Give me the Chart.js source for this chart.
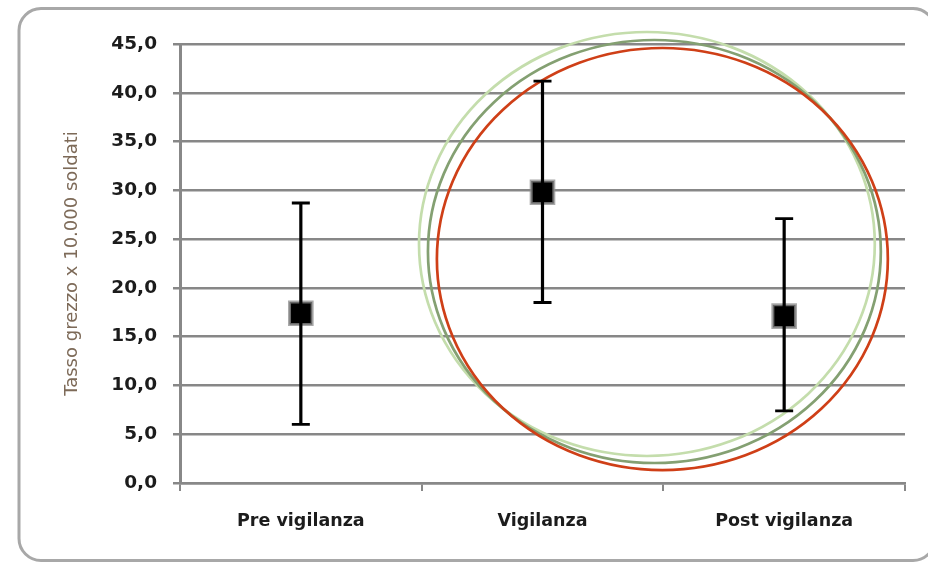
<!DOCTYPE html>
<html>
<head>
<meta charset="utf-8">
<script src="https://cdn.jsdelivr.net/npm/chart.js@4"></script>
<style>
  html, body { margin: 0; padding: 0; background: #ffffff; }
  #wrap { width: 928px; height: 565px; position: relative; }
</style>
</head>
<body>
<div id="wrap"><canvas id="chart"></canvas></div>
<script>
// Periods and crude rates (per 10.000) with their confidence bounds
const categories = ['Pre vigilanza', 'Vigilanza', 'Post vigilanza'];
const rates = [17.4, 29.8, 17.1];
const lowerBounds = [6.0, 18.5, 7.4];
const upperBounds = [28.7, 41.2, 27.1];
const yMin = 0;
const yMax = 45;
const yStep = 5;

// Highlight rings around the vigilance periods, in axis units (category index, rate)
const rings = [
  { cx: 1.432, cy: 24.5,  rx: 0.943, ry: 21.73, color: '#c4ddac' },
  { cx: 1.463, cy: 23.73, rx: 0.937, ry: 21.68, color: '#84a072' },
  { cx: 1.496, cy: 22.96, rx: 0.933, ry: 21.63, color: '#cf3f17' }
];

const frame = {
  id: 'frame',
  beforeDraw(chart) {
    const ctx = chart.ctx;
    ctx.save();
    ctx.fillStyle = '#ffffff';
    ctx.fillRect(0, 0, chart.width, chart.height);
    ctx.beginPath();
    ctx.roundRect(19, 8.5, 916, 552, 22);
    ctx.lineWidth = 3;
    ctx.strokeStyle = '#a8a8a8';
    ctx.stroke();
    ctx.restore();
  }
};

const ringPlugin = {
  id: 'rings',
  beforeDatasetsDraw(chart) {
    const { ctx, scales: { x, y } } = chart;
    ctx.save();
    rings.forEach(r => {
      const cx = x.getPixelForValue(r.cx);
      const cy = y.getPixelForValue(r.cy);
      const rx = x.getPixelForValue(r.cx + r.rx) - cx;
      const ry = cy - y.getPixelForValue(r.cy + r.ry);
      ctx.beginPath();
      ctx.ellipse(cx, cy, rx, ry, 0, 0, Math.PI * 2);
      ctx.lineWidth = 2.7;
      ctx.strokeStyle = r.color;
      ctx.stroke();
    });
    ctx.restore();
  }
};

const errorBars = {
  id: 'errorBars',
  afterDatasetsDraw(chart) {
    const { ctx, scales: { x, y } } = chart;
    ctx.save();
    ctx.strokeStyle = '#000000';
    ctx.lineCap = 'butt';
    categories.forEach((c, i) => {
      const px = x.getPixelForValue(i);
      const top = y.getPixelForValue(upperBounds[i]);
      const bot = y.getPixelForValue(lowerBounds[i]);
      ctx.lineWidth = 3.2;
      ctx.beginPath();
      ctx.moveTo(px, top);
      ctx.lineTo(px, bot);
      ctx.stroke();
      ctx.lineWidth = 2.8;
      ctx.beginPath();
      ctx.moveTo(px - 9, top);
      ctx.lineTo(px + 9, top);
      ctx.moveTo(px - 9, bot);
      ctx.lineTo(px + 9, bot);
      ctx.stroke();
    });
    ctx.restore();
  }
};

new Chart(document.getElementById('chart'), {
  type: 'line',
  data: {
    labels: categories,
    datasets: [{
      data: rates,
      showLine: false,
      pointStyle: 'rect',
      pointRadius: 16,
      pointBackgroundColor: '#000000',
      pointBorderColor: 'rgba(140,140,140,0.75)',
      pointBorderWidth: 3
    }]
  },
  options: {
    responsive: true,
    maintainAspectRatio: false,
    animation: false,
    events: [],
    layout: { padding: { left: 20, right: 23, top: 44, bottom: 22 } },
    plugins: { legend: { display: false }, tooltip: { enabled: false } },
    scales: {
      x: {
        offset: true,
        afterFit(scale) { scale.height = 60; },
        grid: {
          offset: true,
          drawOnChartArea: false,
          drawTicks: true,
          tickLength: 8,
          color: '#888888',
          lineWidth: 2
        },
        border: { display: true, color: '#888888', width: 2.5 },
        ticks: {
          padding: 20,
          color: '#1c1c1c',
          font: { family: 'DejaVu Sans', size: 17.5, weight: 'bold' }
        }
      },
      y: {
        min: yMin,
        max: yMax,
        afterFit(scale) { scale.width = 160; },
        grid: {
          color: '#878787',
          lineWidth: 2.5,
          drawTicks: true,
          tickLength: 7
        },
        border: { display: true, color: '#888888', width: 3 },
        ticks: {
          stepSize: yStep,
          padding: 16,
          color: '#1c1c1c',
          font: { family: 'DejaVu Sans', size: 18.5, weight: 'bold' },
          callback: v => v.toFixed(1).replace('.', ',')
        },
        title: {
          display: true,
          text: 'Tasso grezzo x 10.000 soldati',
          color: '#7d6a58',
          padding: { top: 42, bottom: 0 },
          font: { family: 'DejaVu Sans', size: 18 }
        }
      }
    }
  },
  plugins: [frame, ringPlugin, errorBars]
});
</script>
</body>
</html>
